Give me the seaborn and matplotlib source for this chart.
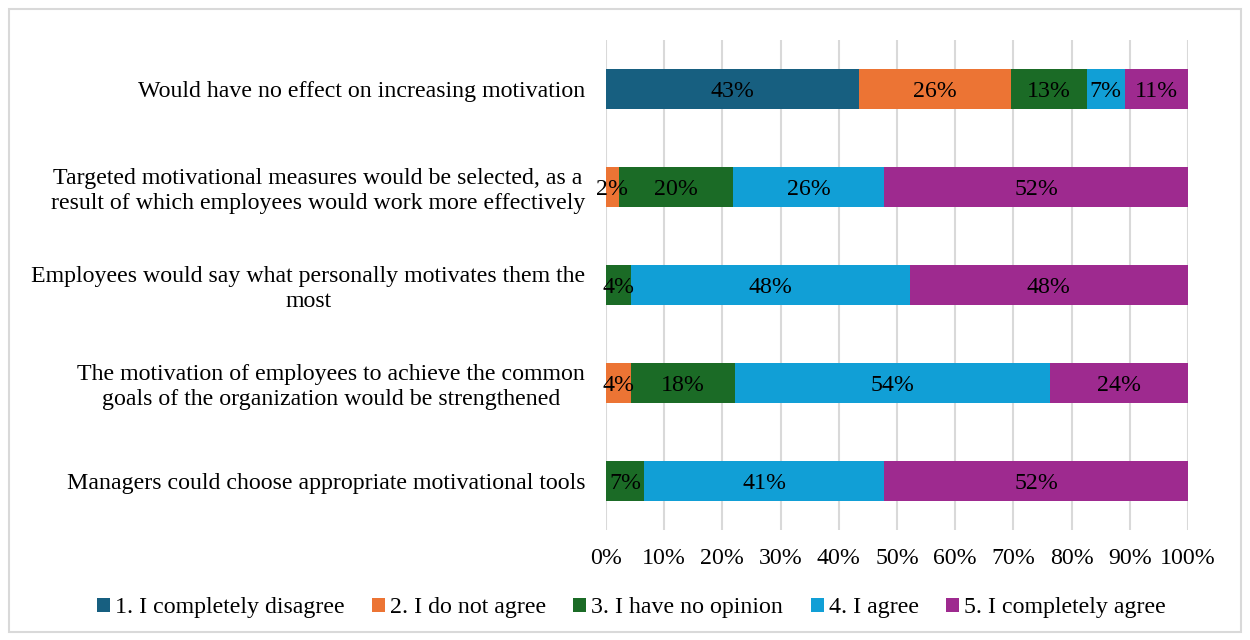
import numpy as np
import pandas as pd
import seaborn as sns
import matplotlib.pyplot as plt
from matplotlib.patches import Rectangle, Patch

statements = [
    "Would have no effect on increasing motivation",
    "Targeted motivational measures would be selected, as a\nresult of which employees would work more effectively",
    "Employees would say what personally motivates them the\nmost",
    "The motivation of employees to achieve the common\ngoals of the organization would be strengthened",
    "Managers could choose appropriate motivational tools",
]
responses = [
    "1. I completely disagree",
    "2. I do not agree",
    "3. I have no opinion",
    "4. I agree",
    "5. I completely agree",
]
# share of respondents (%) per statement
completely_disagree = [43.48, 0.00, 0.00, 0.00, 0.00]
do_not_agree = [26.09, 2.17, 0.00, 4.35, 0.00]
no_opinion = [13.04, 19.57, 4.35, 17.85, 6.52]
agree = [6.52, 26.09, 47.83, 54.10, 41.30]
completely_agree = [10.87, 52.17, 47.83, 23.70, 52.17]
x_ticks = [0, 10, 20, 30, 40, 50, 60, 70, 80, 90, 100]

colors = ["#175F80", "#EC7434", "#1B6B26", "#119FD6", "#9E2A8F"]

sns.set_theme(style="white")
plt.rcParams["font.family"] = ["Liberation Serif", "DejaVu Serif"]
plt.rcParams["text.color"] = "black"
FS = 17.2

series = [completely_disagree, do_not_agree, no_opinion, agree, completely_agree]
df = pd.DataFrame(series, index=responses, columns=statements).T
cum = df.cumsum(axis=1)

fig = plt.figure(figsize=(12.5, 6.4), dpi=100)
ax = fig.add_axes([0.4848, 0.172, 0.4656, 0.7655])

# stacked bars: draw cumulative totals from the last response backwards
for resp, col in zip(reversed(responses), reversed(colors)):
    data = pd.DataFrame({"statement": statements, "value": cum[resp].values})
    sns.barplot(data=data, x="value", y="statement", orient="h", color=col,
                width=0.4, saturation=1, ax=ax, edgecolor="none", zorder=3)

# segment labels
for i, st in enumerate(statements):
    left = 0.0
    for resp in responses:
        v = df.loc[st, resp]
        if v > 0:
            ax.text(left + v / 2, i, f"{v:.0f}%", ha="center",
                    va="center_baseline", fontsize=FS, color="black", zorder=5)
        left += v

ax.set_xlim(0, 100)
ax.set_xticks(x_ticks)
ax.set_xticklabels([f"{t}%" for t in x_ticks], fontsize=FS)
ax.set_yticks(range(len(statements)))
ax.set_yticklabels(statements, fontsize=FS)
for lab in ax.get_yticklabels():
    lab.set_multialignment("center")
ax.set_xlabel("")
ax.set_ylabel("")
ax.tick_params(axis="both", length=0, colors="black")
ax.tick_params(axis="x", pad=13)
ax.tick_params(axis="y", pad=15)
ax.xaxis.grid(True, color="#d9d9d9", linewidth=1.5, zorder=0)
ax.yaxis.grid(False)
ax.set_axisbelow(True)
for s in ax.spines.values():
    s.set_visible(False)

handles = [Patch(facecolor=c, edgecolor="none") for c in colors]
leg = fig.legend(handles, responses, loc="center", bbox_to_anchor=(0.505, 0.05),
                 ncol=5, frameon=False, fontsize=FS, handlelength=0.55,
                 handleheight=0.55, handletextpad=0.2, columnspacing=1.15)
for t in leg.get_texts():
    t.set_color("black")

fig.patches.append(Rectangle((9 / 1250, 8 / 640), 1232 / 1250, 623 / 640,
                             transform=fig.transFigure, fill=False,
                             edgecolor="#d9d9d9", linewidth=1.5))

fig.savefig("out.png", dpi=100, facecolor="white")
